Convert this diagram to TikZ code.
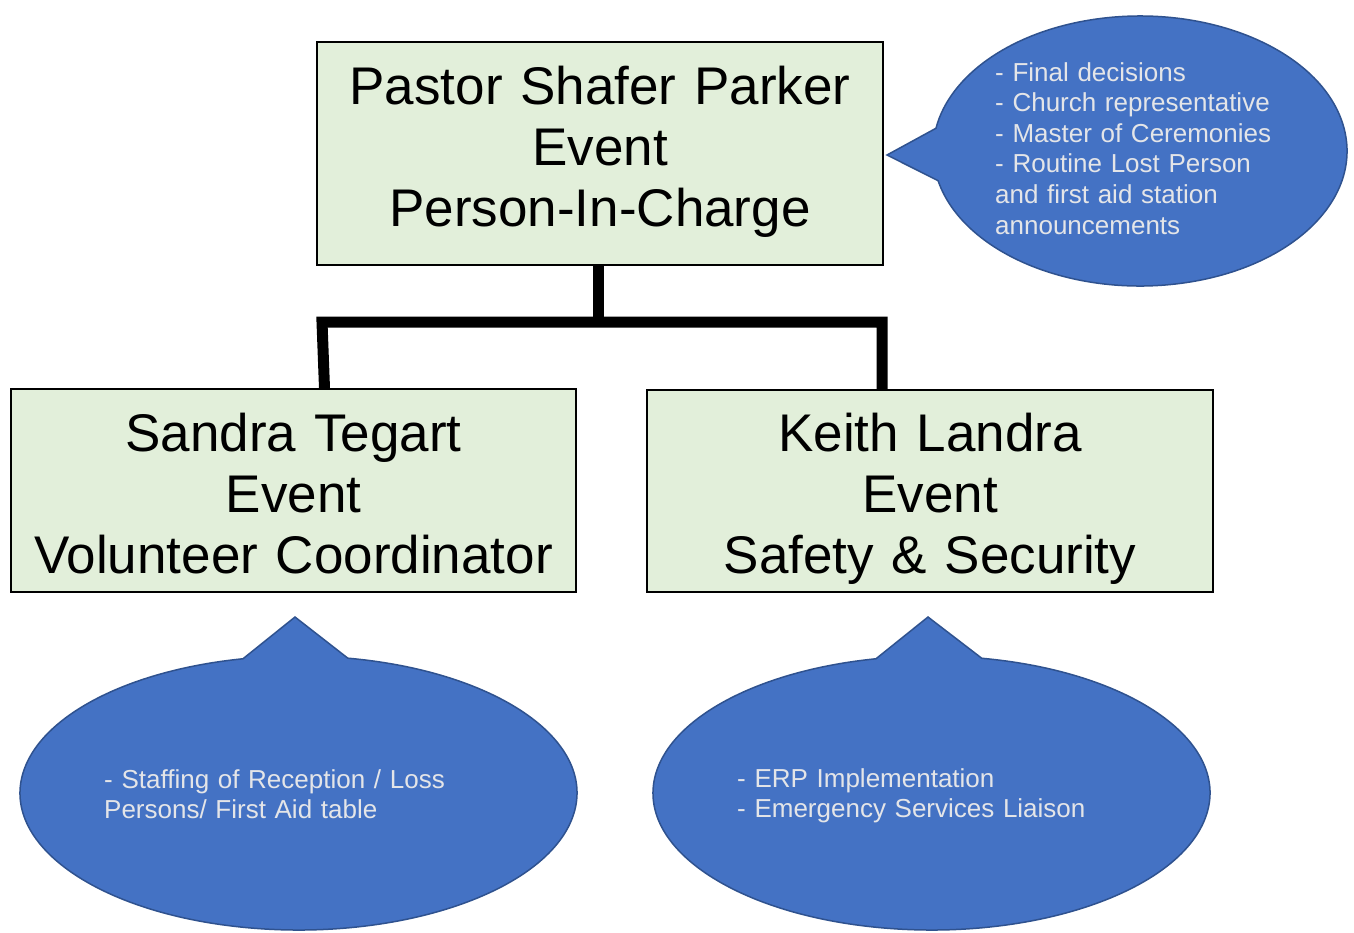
\documentclass[tikz,border=0pt]{standalone}
\usepackage{fontspec}
\setmainfont{Liberation Sans}
\usetikzlibrary{calc}
\definecolor{boxfill}{RGB}{226,239,218}
\definecolor{callfill}{RGB}{68,114,196}
\definecolor{callline}{RGB}{47,82,143}
\definecolor{calltext}{RGB}{228,229,232}
\tikzset{
  rolebox/.style={draw=black, line width=1.5pt, fill=boxfill, inner sep=0pt},
  roletext/.style={text width=560pt, align=center, inner sep=0pt, anchor=base,
    font=\fontsize{53}{61}\selectfont, text=black},
  conn/.style={line width=11pt, line join=miter, line cap=butt},
  callout/.style={fill=callfill, draw=callline, line width=1.5pt, line join=miter},
  calltxt/.style={text width=460pt, align=left, inner sep=0pt, anchor=base west,
    font=\fontsize{26}{30.6}\selectfont, text=calltext}
}
\begin{document}
\begin{tikzpicture}[x=1pt,y=-1pt]
\useasboundingbox (0,0) rectangle (1354,932);
% boxes
\node[rolebox, minimum width=566pt, minimum height=223pt] (pic) at (600,153.5) {};
\node[rolebox, minimum width=565pt, minimum height=203pt] (sandra) at (293.5,490.5) {};
\node[rolebox, minimum width=566pt, minimum height=202pt] (keith) at (930,491) {};
\node[roletext] (pictext) at (600,104) {Pastor Shafer Parker\\Event\\Person-In-Charge};
\node[roletext] (sandratext) at (293.5,451) {Sandra Tegart\\Event\\Volunteer Coordinator};
\node[roletext] (keithtext) at (930,451) {Keith Landra\\Event\\Safety \& Security};
% connectors
\coordinate (bus) at (598,322);
\coordinate (busl) at (322,322);
\coordinate (busr) at (882,322);
\draw[conn] ([xshift=-2pt]pic.south) -- (bus);
\draw[conn] ([xshift=31pt]sandra.north) -- (busl) -- (busr) -- ([xshift=-48pt]keith.north);
% callouts
\coordinate (c1) at (1140,151);
\coordinate (t1) at (887,155);
\draw[callout] (t1) -- ($(c1)+(167.3:207 and 135)$)
  arc[start angle=167.3, end angle=-170.3, x radius=207, y radius=135] -- cycle;
\coordinate (c2) at (298.5,793);
\coordinate (t2) at (295,617);
\draw[callout] (t2) -- ($(c2)+(280.2:278.5 and 137)$)
  arc[start angle=280.2, end angle=618.5, x radius=278.5, y radius=137] -- cycle;
\coordinate (c3) at (931.5,793);
\coordinate (t3) at (928,617);
\draw[callout] (t3) -- ($(c3)+(280.4:278.5 and 137)$)
  arc[start angle=280.4, end angle=618.5, x radius=278.5, y radius=137] -- cycle;
% callout texts
\node[calltxt] (pnote) at (995,81) {- Final decisions\\- Church representative\\- Master of Ceremonies\\- Routine Lost Person\\and first aid station\\announcements};
\node[calltxt] (snote) at (104,788) {- Staffing of Reception / Loss\\Persons/ First Aid table};
\node[calltxt] (knote) at (737,787) {- ERP Implementation\\- Emergency Services Liaison};
\end{tikzpicture}
\end{document}
